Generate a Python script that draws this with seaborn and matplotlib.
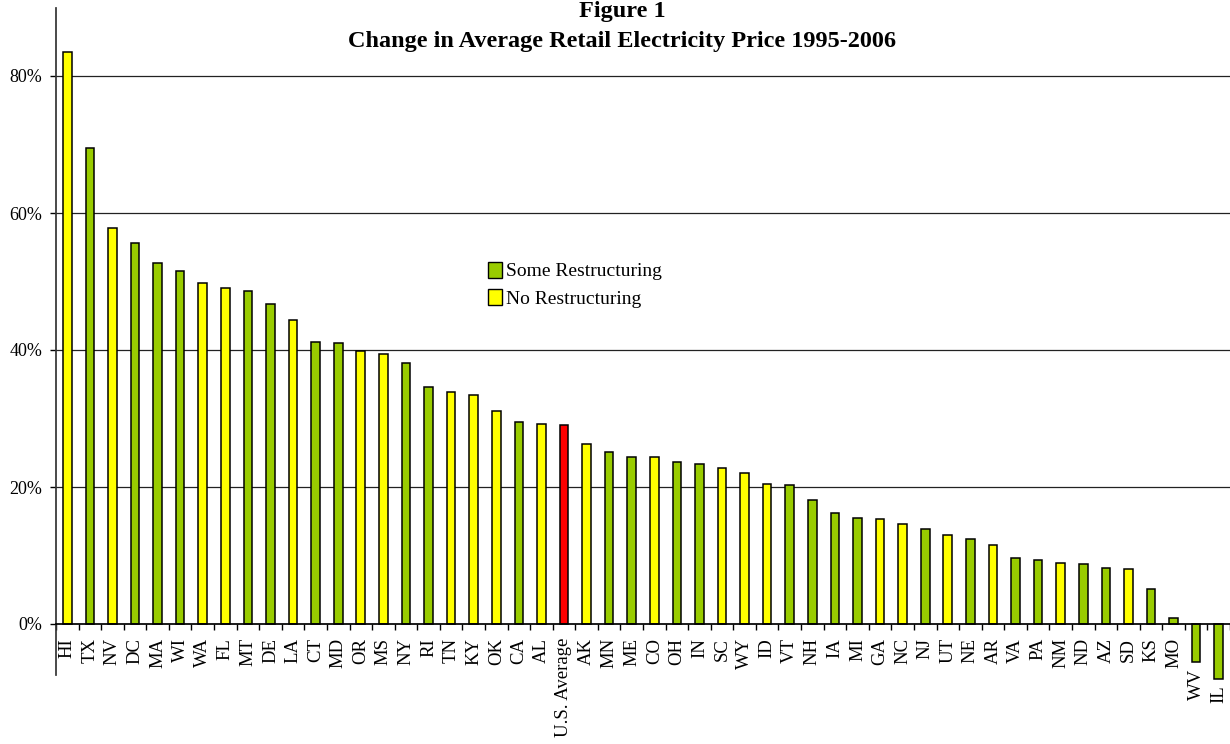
"""
Figure 1 - zmena priemernej maloobchodnej ceny elektriny 1995-2006 podla statov.
"""

import matplotlib
matplotlib.use("Agg")
import matplotlib.pyplot as plt
from matplotlib.patches import Patch
import numpy as np
import pandas as pd
import seaborn as sns

states = ["HI", "TX", "NV", "DC", "MA", "WI", "WA", "FL", "MT", "DE", "LA", "CT", "MD",
          "OR", "MS", "NY", "RI", "TN", "KY", "OK", "CA", "AL", "U.S. Average", "AK",
          "MN", "ME", "CO", "OH", "IN", "SC", "WY", "ID", "VT", "NH", "IA", "MI", "GA",
          "NC", "NJ", "UT", "NE", "AR", "VA", "PA", "NM", "ND", "AZ", "SD", "KS", "MO",
          "WV", "IL"]
change = [83.5, 69.5, 57.8, 55.6, 52.7, 51.5, 49.8, 49.0, 48.6, 46.7, 44.4, 41.2, 41.0,
          39.9, 39.4, 38.1, 34.6, 33.9, 33.4, 31.1, 29.5, 29.2, 29.1, 26.3,
          25.1, 24.4, 24.4, 23.6, 23.4, 22.8, 22.0, 20.4, 20.3, 18.1, 16.2, 15.5, 15.3,
          14.6, 13.9, 13.0, 12.4, 11.5, 9.6, 9.4, 8.9, 8.8, 8.2, 8.0, 5.1, 0.9,
          -5.5, -8.0]
# S = some restructuring, N = no restructuring, A = US average
group = ["N", "S", "N", "S", "S", "S", "N", "N", "S", "S", "N", "S", "S",
         "N", "N", "S", "S", "N", "N", "N", "S", "N", "A", "N",
         "S", "S", "N", "S", "S", "N", "N", "N", "S", "S", "S", "S", "N",
         "N", "S", "N", "S", "N", "S", "S", "N", "S", "S", "N", "S", "S",
         "S", "S"]
legend_labels = ["Some Restructuring", "No Restructuring"]
yticks = [0, 20, 40, 60, 80]

GREEN = "#99CC00"
YELLOW = "#FFFF00"
RED = "#FF0000"

sns.set_theme(style="white")
plt.rcParams["font.family"] = ["Liberation Serif", "DejaVu Serif"]
plt.rcParams["text.color"] = "black"
plt.rcParams["xtick.color"] = "black"
plt.rcParams["ytick.color"] = "black"

df = pd.DataFrame({"state": states, "change": change, "group": group})

fig = plt.figure(figsize=(12.3, 7.44), dpi=100)
ax = fig.add_axes([56 / 1230, 51.5 / 744, 1174 / 1230, 685 / 744])

sns.barplot(data=df, x="state", y="change", hue="group", order=states,
            palette={"S": GREEN, "N": YELLOW, "A": RED}, dodge=False, saturation=1,
            width=0.38, edgecolor="black", linewidth=1.1, legend=False, ax=ax)

ax.set_xlim(-0.5, len(states) - 0.5)
ax.set_ylim(-10, 90)
ax.set_yticks(yticks)
ax.set_yticklabels([f"{v}%" for v in yticks], fontsize=13)
for v in yticks[1:]:
    ax.axhline(v, color="#222222", linewidth=0.9, zorder=0)

for s in ["top", "right"]:
    ax.spines[s].set_visible(False)
ax.spines["bottom"].set_position(("data", 0))
ax.spines["bottom"].set_color("black")
ax.spines["left"].set_color("#333333")
ax.spines["left"].set_bounds(-7.5, 90)

# popisky pod osou; zaporne staty (WV, IL) az pod koncom stlpca
neg = [i for i, v in enumerate(change) if v < 0]
ax.set_xticks(range(len(states)))
ax.set_xticklabels(["" if i in neg else s for i, s in enumerate(states)],
                   rotation=90, fontsize=13.5)
for i in neg:
    ax.annotate(states[i], xy=(i, change[i]), xytext=(0, -5), textcoords="offset points",
                rotation=90, ha="center", va="top", fontsize=13.5)
ax.set_xticks(np.arange(-0.5, len(states), 1), minor=True)
ax.tick_params(axis="x", which="major", length=0, pad=10)
ax.tick_params(axis="x", which="minor", length=4.5, width=1, color="black", direction="out",
               bottom=True)
ax.tick_params(axis="y", length=4, width=1, color="black", direction="out", left=True, pad=6)
ax.set_xlabel("")
ax.set_ylabel("")

handles = [Patch(facecolor=GREEN, edgecolor="black"), Patch(facecolor=YELLOW, edgecolor="black")]
fig.legend(handles, legend_labels, loc="upper left", bbox_to_anchor=(488 / 1230, 482 / 744),
           frameon=False, fontsize=14, borderpad=0, borderaxespad=0, handlelength=0.7,
           handleheight=0.85, handletextpad=0.25, labelspacing=0.45)

fig.text(0.5057, 0.9765, "Figure 1", ha="center", va="baseline", fontsize=17.5,
         fontweight="bold")
fig.text(0.5057, 0.9368, "Change in Average Retail Electricity Price 1995-2006", ha="center",
         va="baseline", fontsize=17.5, fontweight="bold")

fig.savefig("out.png", dpi=100)
plt.close(fig)
